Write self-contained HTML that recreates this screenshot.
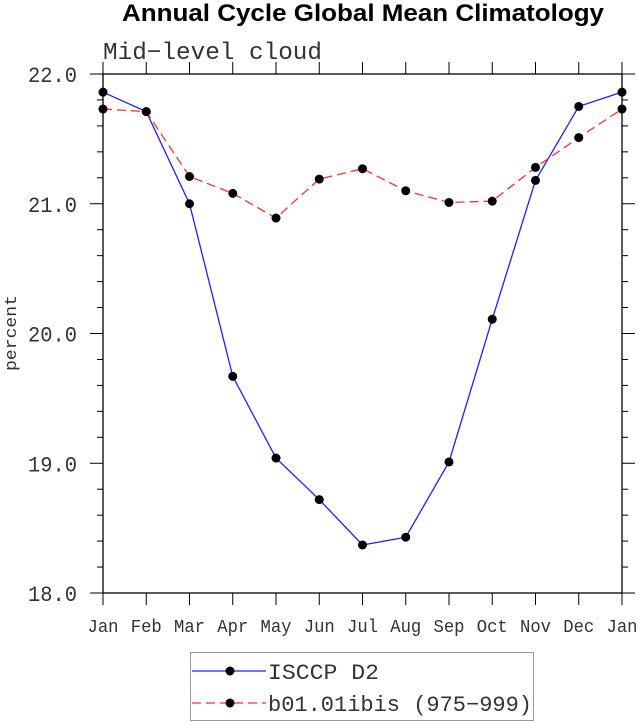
<!DOCTYPE html>
<html><head><meta charset="utf-8"><style>
body{margin:0;background:#fff;width:638px;height:723px;overflow:hidden}
svg{display:block}
</style></head><body>
<svg id="chart" width="638" height="723" xmlns="http://www.w3.org/2000/svg">
<text x="363" y="21" text-anchor="middle" font-family="Liberation Sans, sans-serif" font-weight="bold" font-size="24" textLength="482" lengthAdjust="spacingAndGlyphs">Annual Cycle Global Mean Climatology</text>
<text x="103" y="59" font-family="Liberation Mono, monospace" font-size="24" fill="#333" textLength="219" lengthAdjust="spacingAndGlyphs">Mid−level cloud</text>
<text transform="translate(16,333) rotate(-90)" text-anchor="middle" font-family="Liberation Mono, monospace" font-size="17" fill="#333" textLength="76" lengthAdjust="spacingAndGlyphs">percent</text>
<g id="axes"></g>
<g id="series"></g>
<g>
<rect x="190.5" y="652.5" width="343" height="68" fill="#fff" stroke="#999" stroke-width="1"/>
<line x1="192" y1="671" x2="266" y2="671" stroke="#2020ff" stroke-width="1.3"/>
<circle cx="230" cy="671" r="4.5" fill="#000"/>
<text x="268" y="679" font-family="Liberation Mono, monospace" font-size="22" fill="#333" textLength="111" lengthAdjust="spacingAndGlyphs">ISCCP D2</text>
<line x1="192" y1="703" x2="266" y2="703" stroke="#ff3030" stroke-width="1.3" stroke-dasharray="9,5"/>
<circle cx="230" cy="703" r="4.5" fill="#000"/>
<text x="268" y="711" font-family="Liberation Mono, monospace" font-size="22" fill="#333" textLength="264" lengthAdjust="spacingAndGlyphs">b01.01ibis (975−999)</text>
</g>
</svg>
<script>
const months=["Jan","Feb","Mar","Apr","May","Jun","Jul","Aug","Sep","Oct","Nov","Dec","Jan"];
const isccp=[21.86,21.71,21.0,19.67,19.04,18.72,18.37,18.43,19.01,20.11,21.18,21.75,21.86];
const b01=[21.73,21.71,21.21,21.08,20.89,21.19,21.27,21.10,21.01,21.02,21.28,21.51,21.73];
const yTicks=[18,19,20,21,22];
const yTickLabels=["18.0","19.0","20.0","21.0","22.0"];
const X0=103,X1=622,Y0=593,Y1=74,YMIN=18,YMAX=22;
const ns="http://www.w3.org/2000/svg";
function xs(i){return X0+(X1-X0)*i/(months.length-1);}
function ys(v){return Y0-(v-YMIN)/(YMAX-YMIN)*(Y0-Y1);}
function mk(t,a,p){const e=document.createElementNS(ns,t);for(const k in a)e.setAttribute(k,a[k]);p.appendChild(e);return e;}
const ax=document.getElementById('axes');
const frame=mk('rect',{x:X0,y:Y1,width:X1-X0,height:Y0-Y1,fill:'none',stroke:'#000','stroke-width':1.3},ax);


months.forEach((m,i)=>{const x=xs(i);
mk('line',{x1:x,y1:Y0,x2:x,y2:Y0+12,stroke:'#000'},ax);
mk('line',{x1:x,y1:Y1,x2:x,y2:Y1-12,stroke:'#000'},ax);
const t=mk('text',{x:x,y:Y0+39,'text-anchor':'middle','font-family':'Liberation Mono, monospace','font-size':18,fill:'#333',textLength:31,lengthAdjust:'spacingAndGlyphs'},ax);
t.textContent=m;

});
for(let v=YMIN;v<=YMAX+1e-9;v+=0.2){const y=ys(v);const major=Math.abs(v-Math.round(v))<1e-6;const L=major?13:6;
mk('line',{x1:X0,y1:y,x2:X0-L,y2:y,stroke:'#000'},ax);
mk('line',{x1:X1,y1:y,x2:X1+L,y2:y,stroke:'#000'},ax);}
yTicks.forEach((v,i)=>{const t=mk('text',{x:77,y:ys(v)+8,'text-anchor':'end','font-family':'Liberation Mono, monospace','font-size':22,fill:'#333',textLength:49,lengthAdjust:'spacingAndGlyphs'},ax);
t.textContent=yTickLabels[i];

});
const sg=document.getElementById('series');
function draw(data,color,dash,name){
const pl=mk('polyline',{points:data.map((v,i)=>xs(i)+','+ys(v)).join(' '),fill:'none',stroke:color,'stroke-width':1.3,'stroke-dasharray':dash},sg);


data.forEach((v,i)=>{const c=mk('circle',{cx:xs(i),cy:ys(v),r:4.5,fill:'#000'},sg);

});}
draw(isccp,'#2020ff','none','isccp');
draw(b01,'#ff3030','9,5','b01');
</script>
</body></html>
